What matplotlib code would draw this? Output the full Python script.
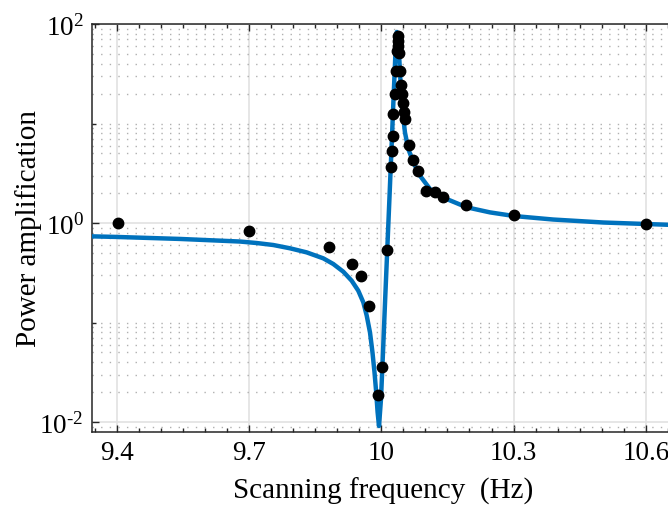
import numpy as np
import matplotlib
matplotlib.use("Agg")
import matplotlib.pyplot as plt
import matplotlib.ticker as mticker

# measured points (scanning frequency in Hz, power amplification)
freq_meas = [9.403, 9.700, 9.882, 9.933, 9.954, 9.973, 9.992, 10.002, 10.012,
             10.022, 10.024, 10.026, 10.027, 10.030, 10.033, 10.037, 10.037,
             10.037, 10.035, 10.041, 10.043, 10.044, 10.047, 10.049, 10.051,
             10.053, 10.063, 10.073, 10.083, 10.101, 10.122, 10.141, 10.191,
             10.302, 10.601]
amp_meas = [1.0, 0.832, 0.578, 0.385, 0.291, 0.146, 0.0186, 0.0355, 0.540,
            3.66, 5.25, 7.43, 12.4, 20.0, 33.9, 76.2, 67.9,
            60.3, 53.7, 50.7, 33.9, 24.5, 20.0, 16.1, 13.2,
            11.1, 6.12, 4.33, 3.31, 2.08, 2.03, 1.82, 1.53,
            1.20, 0.977]

# fitted curve
freq_fit = [9.3443, 9.4011, 9.5440, 9.6796, 9.7175, 9.7551, 9.7930, 9.8308,
            9.8685, 9.8912, 9.9138, 9.9329, 9.9478, 9.9592, 9.9669, 9.9744,
            9.9800, 9.9846, 9.9884, 9.9916, 9.9948, 9.9993, 10.0032, 10.0088,
            10.0136, 10.0184, 10.0231, 10.0277, 10.0315, 10.0333, 10.0351,
            10.0370, 10.0385, 10.0408, 10.0440, 10.0485, 10.0537, 10.0612,
            10.0726, 10.0878, 10.1104, 10.1483, 10.1937, 10.2465, 10.3016,
            10.3900, 10.5034, 10.6660]
amp_fit = [0.7345, 0.7244, 0.6918, 0.6516, 0.6295, 0.6012, 0.5572, 0.5070,
           0.4416, 0.3873, 0.3243, 0.2630, 0.2089, 0.1596, 0.1175, 0.0794,
           0.0501, 0.0316, 0.0200, 0.0126, 0.00912, 0.0170, 0.0427, 0.1722,
           0.5495, 1.742, 5.546, 17.62, 44.46, 70.79, 83.18,
           81.28, 70.79, 44.67, 23.99, 12.88, 8.128, 5.546,
           4.074, 2.985, 2.198, 1.742, 1.439, 1.279, 1.175,
           1.084, 1.012, 0.955]

x_ticks = [9.4, 9.7, 10.0, 10.3, 10.6]
x_ticklabels = ['9.4', '9.7', '10', '10.3', '10.6']
y_ticks = [1e-2, 1e0, 1e2]

plt.rcParams['font.family'] = 'Liberation Serif'
plt.rcParams['mathtext.fontset'] = 'custom'
plt.rcParams['mathtext.rm'] = 'Liberation Serif'
plt.rcParams['mathtext.it'] = 'Liberation Serif:italic'
plt.rcParams['font.size'] = 21

fig = plt.figure(figsize=(6.68, 5.06), dpi=100)
ax = fig.add_axes([92 / 668, 73 / 506, 583 / 668, 408 / 506])

ax.plot(freq_fit, amp_fit, color='#0072BD', lw=3.2, zorder=3,
        solid_joinstyle='round')
ax.plot(freq_meas, amp_meas, 'o', color='black', markersize=7.5, zorder=4)

ax.set_yscale('log')
ax.set_xlim(9.344, 10.666)
ax.set_ylim(10 ** -2.1, 1e2)


def exp_label(v, pos):
    e = int(round(np.log10(v)))
    if e < 0:
        return r'$\mathregular{10^{\text{-}%d}}$' % (-e)
    return r'$\mathregular{10^{%d}}$' % e


ax.set_xticks(x_ticks)
ax.set_xticklabels(x_ticklabels)
ax.xaxis.set_minor_locator(mticker.MultipleLocator(0.05))
ax.yaxis.set_major_locator(mticker.FixedLocator(y_ticks))
ax.yaxis.set_major_formatter(mticker.FuncFormatter(exp_label))
ax.yaxis.set_minor_locator(mticker.LogLocator(base=10, subs=np.arange(1, 10), numticks=20))
ax.yaxis.set_minor_formatter(mticker.NullFormatter())

ax.tick_params(which='both', direction='in', top=True, right=False,
               color='#262626', width=1.0)
ax.tick_params(which='major', length=5, pad=6, labelsize=19.5)
ax.tick_params(which='minor', length=3)

ax.grid(True, which='major', color='#e2e2e2', lw=1.2, zorder=0)
ax.grid(True, which='minor', axis='y', color='#b0b0b0', lw=1.0,
        linestyle=(0, (1, 5.2)), zorder=0)
ax.set_axisbelow(True)

for side in ['left', 'bottom', 'top']:
    ax.spines[side].set_color('#262626')
    ax.spines[side].set_linewidth(1.1)
ax.spines['right'].set_visible(False)

ax.set_xlabel('Scanning frequency  (Hz)', labelpad=8)
ax.set_ylabel('Power amplification')
ax.yaxis.set_label_coords(-0.086, 0.5)

# y minor tick marks only at the odd decades
fig.canvas.draw()
for t in ax.yaxis.get_minor_ticks():
    loc = t.get_loc()
    if loc <= 0 or abs(np.log10(loc) - round(np.log10(loc))) > 1e-6:
        t.tick1line.set_visible(False)
        t.tick2line.set_visible(False)

fig.savefig('out.png', dpi=100)
